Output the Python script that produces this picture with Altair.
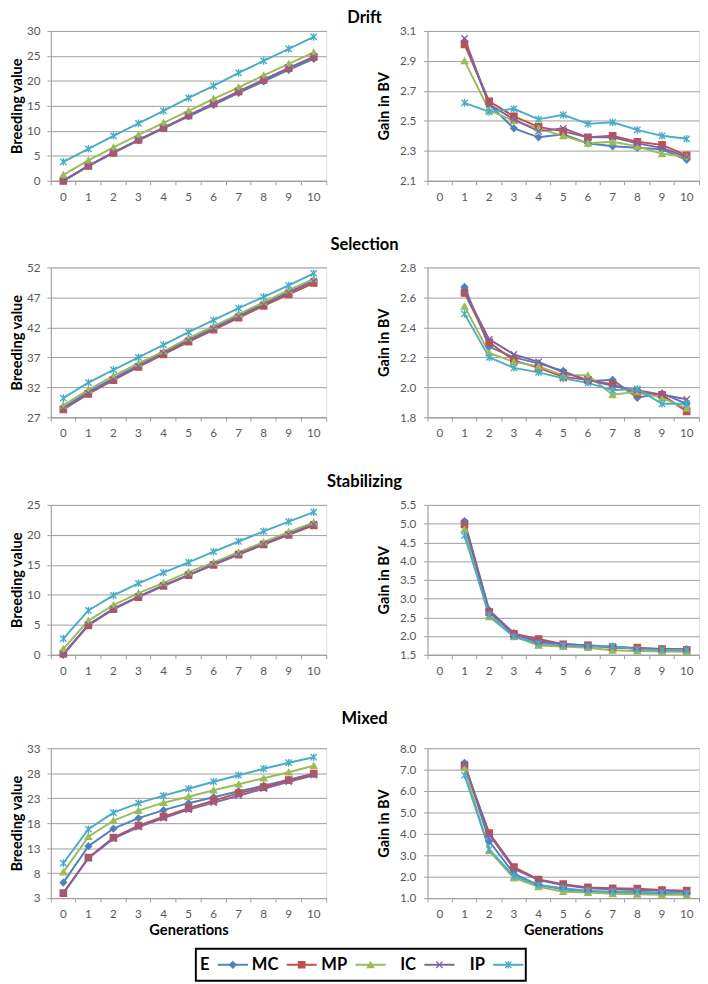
import altair as alt
import pandas as pd

FONT = "Lato"
GRID = "#9C9C9C"
LABEL = "#595959"

GENS = list(range(11))
GAIN_GENS = list(range(1, 11))
SERIES = ["E", "MC", "MP", "IC", "IP"]
LINE_COLORS = ["#4F81BD", "#C0504D", "#9BBB59", "#8064A2", "#4BACC6"]
LEGEND_COLORS = ["#4F81BD", "#FF0000", "#92D050", "#0070C0", "#00B0F0"]
X_PATH = "M-1,-1L1,1M-1,1L1,-1"
AST_PATH = "M-1,-1L1,1M-1,1L1,-1M0,-1.2L0,1.2"
SHAPES = ["diamond", "square", "triangle-up", X_PATH, AST_PATH]

# ---- Drift ----
drift_bv = {
    "E":  [0.0, 3.0, 5.6, 8.1, 10.5, 12.9, 15.2, 17.6, 19.9, 22.2, 24.4],
    "MC": [0.0, 3.0, 5.6, 8.2, 10.6, 13.1, 15.5, 17.9, 20.2, 22.6, 24.8],
    "MP": [1.2, 4.1, 6.7, 9.2, 11.6, 14.0, 16.4, 18.7, 21.1, 23.4, 25.7],
    "IC": [0.0, 3.0, 5.7, 8.2, 10.6, 13.0, 15.4, 17.8, 20.2, 22.5, 24.8],
    "IP": [3.8, 6.4, 9.0, 11.5, 14.0, 16.6, 19.0, 21.6, 24.0, 26.4, 28.8],
}
drift_gain = {
    "E":  [3.03, 2.61, 2.45, 2.39, 2.41, 2.35, 2.33, 2.32, 2.31, 2.24],
    "MC": [3.01, 2.63, 2.53, 2.46, 2.43, 2.39, 2.40, 2.36, 2.34, 2.27],
    "MP": [2.90, 2.57, 2.50, 2.45, 2.40, 2.35, 2.36, 2.33, 2.28, 2.26],
    "IC": [3.05, 2.61, 2.51, 2.43, 2.45, 2.39, 2.39, 2.35, 2.32, 2.26],
    "IP": [2.62, 2.56, 2.58, 2.51, 2.54, 2.48, 2.49, 2.44, 2.40, 2.38],
}

# ---- Selection ----
selection_bv = {
    "E":  [28.6, 31.3, 33.5, 35.7, 37.8, 39.9, 41.9, 44.0, 45.9, 47.9, 49.8],
    "MC": [28.3, 30.9, 33.2, 35.4, 37.5, 39.6, 41.6, 43.6, 45.6, 47.5, 49.4],
    "MP": [29.0, 31.6, 33.9, 36.0, 38.0, 40.2, 42.2, 44.2, 46.2, 48.2, 50.1],
    "IC": [28.4, 31.0, 33.3, 35.5, 37.7, 39.8, 41.8, 43.8, 45.8, 47.8, 49.7],
    "IP": [30.2, 32.8, 34.9, 37.0, 39.1, 41.2, 43.2, 45.2, 47.1, 49.0, 51.0],
}
selection_gain = {
    "E":  [2.67, 2.27, 2.20, 2.16, 2.11, 2.04, 2.05, 1.93, 1.96, 1.89],
    "MC": [2.63, 2.30, 2.18, 2.13, 2.07, 2.05, 2.02, 1.96, 1.95, 1.84],
    "MP": [2.54, 2.23, 2.17, 2.14, 2.08, 2.08, 1.95, 1.97, 1.93, 1.86],
    "IC": [2.64, 2.32, 2.22, 2.17, 2.10, 2.05, 2.01, 1.98, 1.95, 1.92],
    "IP": [2.49, 2.20, 2.13, 2.10, 2.06, 2.03, 1.98, 1.99, 1.89, 1.89],
}

# ---- Stabilizing ----
stabilizing_bv = {
    "E":  [0.0, 5.0, 7.7, 9.7, 11.6, 13.3, 15.1, 16.8, 18.5, 20.1, 21.8],
    "MC": [0.2, 4.9, 7.6, 9.6, 11.5, 13.3, 15.0, 16.7, 18.4, 20.0, 21.6],
    "MP": [1.0, 5.7, 8.3, 10.3, 12.0, 13.8, 15.4, 17.1, 18.8, 20.5, 22.1],
    "IC": [0.1, 5.0, 7.6, 9.7, 11.5, 13.3, 15.1, 16.8, 18.5, 20.1, 21.8],
    "IP": [2.7, 7.4, 9.9, 11.9, 13.7, 15.4, 17.2, 18.9, 20.6, 22.2, 23.8],
}
stabilizing_gain = {
    "E":  [5.07, 2.69, 2.08, 1.82, 1.78, 1.75, 1.72, 1.67, 1.66, 1.65],
    "MC": [4.98, 2.64, 2.06, 1.92, 1.78, 1.75, 1.69, 1.69, 1.65, 1.63],
    "MP": [4.85, 2.51, 1.99, 1.75, 1.72, 1.69, 1.62, 1.60, 1.59, 1.58],
    "IC": [5.02, 2.66, 2.04, 1.86, 1.78, 1.75, 1.71, 1.67, 1.65, 1.63],
    "IP": [4.68, 2.56, 1.98, 1.80, 1.75, 1.72, 1.73, 1.65, 1.63, 1.63],
}

# ---- Mixed ----
mixed_bv = {
    "E":  [6.1, 13.4, 16.9, 19.0, 20.6, 22.0, 23.2, 24.4, 25.5, 26.7, 27.9],
    "MC": [4.0, 11.1, 15.1, 17.5, 19.3, 21.0, 22.5, 24.0, 25.2, 26.6, 27.9],
    "MP": [8.2, 15.3, 18.5, 20.5, 22.1, 23.3, 24.6, 25.8, 27.0, 28.2, 29.5],
    "IC": [4.0, 11.0, 14.9, 17.2, 19.0, 20.7, 22.1, 23.5, 24.9, 26.3, 27.6],
    "IP": [10.0, 16.8, 20.1, 22.0, 23.5, 24.9, 26.3, 27.6, 28.9, 30.1, 31.2],
}
mixed_gain = {
    "E":  [7.32, 3.66, 2.14, 1.61, 1.41, 1.30, 1.26, 1.23, 1.20, 1.20],
    "MC": [7.16, 4.04, 2.45, 1.87, 1.65, 1.50, 1.46, 1.44, 1.38, 1.35],
    "MP": [7.09, 3.21, 1.94, 1.53, 1.30, 1.26, 1.20, 1.18, 1.15, 1.15],
    "IC": [7.24, 3.97, 2.37, 1.84, 1.61, 1.46, 1.41, 1.38, 1.35, 1.30],
    "IP": [6.74, 3.28, 2.02, 1.61, 1.46, 1.35, 1.30, 1.30, 1.26, 1.23],
}

ROWS = [
    ("Drift", drift_bv, [0, 30], [0, 5, 10, 15, 20, 25, 30],
     drift_gain, [2.1, 3.1], [2.1, 2.3, 2.5, 2.7, 2.9, 3.1], -2),
    ("Selection", selection_bv, [27, 52], [27, 32, 37, 42, 47, 52],
     selection_gain, [1.8, 2.8], [1.8, 2.0, 2.2, 2.4, 2.6, 2.8], 7),
    ("Stabilizing", stabilizing_bv, [0, 25], [0, 5, 10, 15, 20, 25],
     stabilizing_gain, [1.5, 5.5], [1.5, 2.0, 2.5, 3.0, 3.5, 4.0, 4.5, 5.0, 5.5], 8),
    ("Mixed", mixed_bv, [3, 33], [3, 8, 13, 18, 23, 28, 33],
     mixed_gain, [1.0, 8.0], [1.0, 2.0, 3.0, 4.0, 5.0, 6.0, 7.0, 8.0], 14),
]

PLOT_H = 154
LEFT_W = 283
RIGHT_W = 279


def panel(values, gens, ydomain, yvalues, yfmt, ytitle, xtitle, width):
    recs = []
    for s in SERIES:
        for g, v in zip(gens, values[s]):
            recs.append({"gen": g, "series": s, "value": v})
    df = pd.DataFrame(recs)
    xaxis = alt.Axis(
        labelAngle=0, bandPosition=1, tickExtra=True, tickSize=4,
        labelPadding=7, domainColor=GRID, tickColor=GRID, grid=False,
        labelFont=FONT, labelFontSize=12, labelColor=LABEL,
        titleFont=FONT, titleFontSize=15, titleFontWeight="bold",
        titleColor="black", titlePadding=3,
    )
    x = alt.X(
        "gen:O",
        scale=alt.Scale(type="band", domain=GENS, paddingInner=0, paddingOuter=0),
        axis=xaxis, title=xtitle, bandPosition=0.5,
    )
    left_side = yfmt == "d"
    yaxis = alt.Axis(
        values=yvalues, format=yfmt, grid=True, gridColor=GRID,
        domainColor=GRID, tickColor=GRID, tickSize=4,
        labelPadding=7 if left_side else 8,
        titlePadding=2 if left_side else 8,
        labelFont=FONT, labelFontSize=12, labelColor=LABEL,
        titleFont=FONT, titleFontSize=15, titleFontWeight="bold",
        titleColor="black",
    )
    y = alt.Y("value:Q", scale=alt.Scale(domain=ydomain, nice=False, zero=False),
              axis=yaxis, title=ytitle)
    cscale = alt.Scale(domain=SERIES, range=LINE_COLORS)
    base = alt.Chart(df).encode(x=x, y=y)
    lines = base.mark_line(strokeWidth=2).encode(
        color=alt.Color("series:N", scale=cscale, legend=None)
    )
    points = base.mark_point(filled=True, size=42, strokeWidth=1.4, opacity=1).encode(
        fill=alt.Fill("series:N", scale=cscale, legend=None),
        stroke=alt.Stroke("series:N", scale=cscale, legend=None),
        shape=alt.Shape("series:N", scale=alt.Scale(domain=SERIES, range=SHAPES), legend=None),
    )
    return alt.layer(lines, points).properties(width=width, height=PLOT_H)


rows = []
for i, (name, bv, bdom, bvals, gain, gdom, gvals, off) in enumerate(ROWS):
    last = i == len(ROWS) - 1
    xt = "Generations" if last else None
    left = panel(bv, GENS, bdom, bvals, "d", "Breeding value", xt, LEFT_W)
    right = panel(gain, GAIN_GENS, gdom, gvals, ".1f", "Gain in BV", xt, RIGHT_W)
    row = alt.hconcat(left, right, spacing=50).properties(
        title=alt.TitleParams(
            text=name, fontSize=17, fontWeight="bold", font=FONT,
            anchor="middle", offset=off, dx=10, color="black",
        )
    )
    rows.append(row)

panels = alt.vconcat(*rows, spacing=34)

# ---- Legend ----
LEGEND_W = 339
LEGEND_H = 33
legend_df = pd.DataFrame({"series": SERIES})
lx = alt.X("series:N", sort=SERIES,
           scale=alt.Scale(type="point", domain=SERIES, range=[38, 321], padding=0),
           axis=None)
lcol = alt.Scale(domain=SERIES, range=LEGEND_COLORS)
lbase = alt.Chart(legend_df).encode(x=lx)
ltext = lbase.mark_text(align="right", baseline="middle", dx=-24, fontSize=17,
                        fontWeight="bold", font=FONT, color="black").encode(text="series:N")
lline = lbase.mark_point(shape="stroke", size=961, strokeWidth=2, opacity=1).encode(
    stroke=alt.Stroke("series:N", scale=lcol, legend=None)
)
lmark = lbase.mark_point(filled=True, size=42, strokeWidth=1.4, opacity=1).encode(
    fill=alt.Fill("series:N", scale=lcol, legend=None),
    stroke=alt.Stroke("series:N", scale=lcol, legend=None),
    shape=alt.Shape("series:N", scale=alt.Scale(domain=SERIES, range=SHAPES), legend=None),
)
legend = alt.layer(lline, lmark, ltext).properties(
    width=LEGEND_W, height=LEGEND_H,
    view=alt.ViewBackground(stroke="black", strokeWidth=2),
)
spacer = alt.Chart(pd.DataFrame({"s": [0]})).mark_point(opacity=0).encode(
    x=alt.value(0)
).properties(
    width=148, height=LEGEND_H,
    view=alt.ViewBackground(strokeOpacity=0, fillOpacity=0),
)
legend_row = alt.hconcat(spacer, legend, spacing=0)

chart = alt.vconcat(panels, legend_row, spacing=10).properties(
    padding={"left": 1, "top": -13, "right": 0, "bottom": 0}
).configure_view(stroke=None).configure(font=FONT)

chart.save("out.html", embed_options={"renderer": "svg", "actions": False})
